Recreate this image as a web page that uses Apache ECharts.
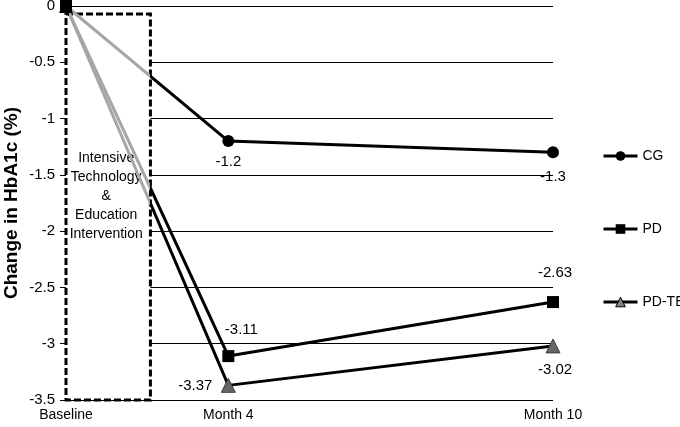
<!DOCTYPE html>
<html>
<head>
<meta charset="utf-8">
<script src="https://cdn.jsdelivr.net/npm/echarts@6/dist/echarts.min.js"></script>
<style>html,body{margin:0;padding:0;background:#fff}#c{width:680px;height:427px}</style>
</head>
<body>
<div id="c"></div>
<script>
const categories = ['Baseline', 'Month 4', 'Month 10'];
const xPos = [0, 1, 3];
const cgValues = [0, -1.2, -1.3];
const pdValues = [0, -3.11, -2.63];
const pdteValues = [0, -3.37, -3.02];
const seriesNames = ['CG', 'PD', 'PD-TE'];
const boxLabel = ['Intensive', 'Technology', '&', 'Education', 'Intervention'];
const boxEnd = 0.52;
const boxTop = -0.07;
const yMin = -3.5, yMax = 0, yStep = 0.5;

const FONT = 'Liberation Sans';

function pts(vals, labelCfgs) {
  return vals.map((v, i) => {
    const item = { value: [xPos[i], v] };
    if (labelCfgs && labelCfgs[i]) item.label = Object.assign({ show: true }, labelCfgs[i]);
    return item;
  });
}

const lblBase = { color: '#000', fontSize: 15, fontFamily: FONT, formatter: p => String(p.value[1]) };

const chart = echarts.init(document.getElementById('c'));
chart.setOption({
  animation: false,
  textStyle: { fontFamily: FONT },
  grid: { left: 66, right: 127, top: 6, bottom: 27, containLabel: false, outerBoundsMode: 'none' },
  xAxis: {
    type: 'value', min: 0, max: 3, interval: 1,
    axisLine: { show: false }, axisTick: { show: false }, splitLine: { show: false },
    axisLabel: {
      margin: 8, color: '#000', fontSize: 14, fontFamily: FONT,
      formatter: v => { const i = xPos.indexOf(v); return i >= 0 ? categories[i] : ''; }
    }
  },
  yAxis: {
    type: 'value', min: yMin, max: yMax, interval: yStep,
    name: 'Change in HbA1c (%)', nameLocation: 'middle', nameGap: 45, nameMoveOverlap: false,
    nameTextStyle: { color: '#000', fontSize: 19, fontWeight: 'bold', fontFamily: FONT },
    axisLine: { show: false },
    axisTick: { show: true, length: 6, lineStyle: { color: '#000' } },
    splitLine: { lineStyle: { color: '#000', width: 1 } },
    axisLabel: { color: '#000', fontSize: 15, fontFamily: FONT, margin: 11 }
  },
  legend: {
    orient: 'vertical', left: 597, top: 144, itemGap: 59, itemWidth: 34, itemHeight: 12,
    textStyle: { color: '#000', fontSize: 14, fontFamily: FONT },
    lineStyle: { width: 3, color: '#000' },
    data: [
      { name: 'CG', itemStyle: { color: '#000' } },
      { name: 'PD', itemStyle: { color: '#000' } },
      { name: 'PD-TE', itemStyle: { color: '#808080', borderColor: '#000', borderWidth: 1 } }
    ]
  },
  visualMap: {
    type: 'piecewise', show: false, dimension: 0, seriesIndex: [1, 2, 3],
    pieces: [
      { lt: 0.02, color: '#000' },
      { gte: 0.02, lt: boxEnd, color: '#a6a6a6' },
      { gte: boxEnd, color: '#000' }
    ]
  },
  series: [
    {
      name: 'box', type: 'line', data: [], z: 1, silent: true,
      markArea: {
        silent: true,
        itemStyle: { color: '#fff', borderColor: '#000', borderWidth: 3, borderType: [7, 3] },
        label: {
          show: true, position: 'inside', color: '#000', fontSize: 14, fontFamily: FONT,
          lineHeight: 19, align: 'center', offset: [-2, -11], formatter: boxLabel.join('\n')
        },
        data: [[{ xAxis: 0, yAxis: boxTop }, { xAxis: boxEnd, yAxis: yMin }]]
      }
    },
    {
      name: seriesNames[0], type: 'line', z: 3, symbol: 'circle', symbolSize: 12,
      lineStyle: { width: 3 }, itemStyle: { color: '#000' },
      data: pts(cgValues, [null,
        Object.assign({}, lblBase, { position: 'bottom', distance: 7 }),
        Object.assign({}, lblBase, { position: 'bottom', distance: 11 })])
    },
    {
      name: seriesNames[1], type: 'line', z: 3, symbol: 'rect', symbolSize: 12,
      lineStyle: { width: 3 }, itemStyle: { color: '#000' },
      data: pts(pdValues, [null,
        Object.assign({}, lblBase, { position: 'top', distance: 13, offset: [13, 0] }),
        Object.assign({}, lblBase, { position: 'top', distance: 16, offset: [2, 0] })])
    },
    {
      name: seriesNames[2], type: 'line', z: 3, symbol: 'triangle', symbolSize: 14,
      lineStyle: { width: 3 }, itemStyle: { color: '#000' },
      data: pts(pdteValues, [null,
        Object.assign({}, lblBase, { position: 'left', distance: 9 }),
        Object.assign({}, lblBase, { position: 'bottom', distance: 9, offset: [2, 0] })])
    },
    {
      name: 'PD-TE markers', type: 'scatter', z: 4, symbol: 'triangle', symbolSize: 14, silent: true,
      itemStyle: { color: '#808080', borderColor: '#333', borderWidth: 1 },
      data: xPos.slice(1).map((x, i) => [x, pdteValues[i + 1]])
    }
  ]
});
</script>
</body>
</html>
